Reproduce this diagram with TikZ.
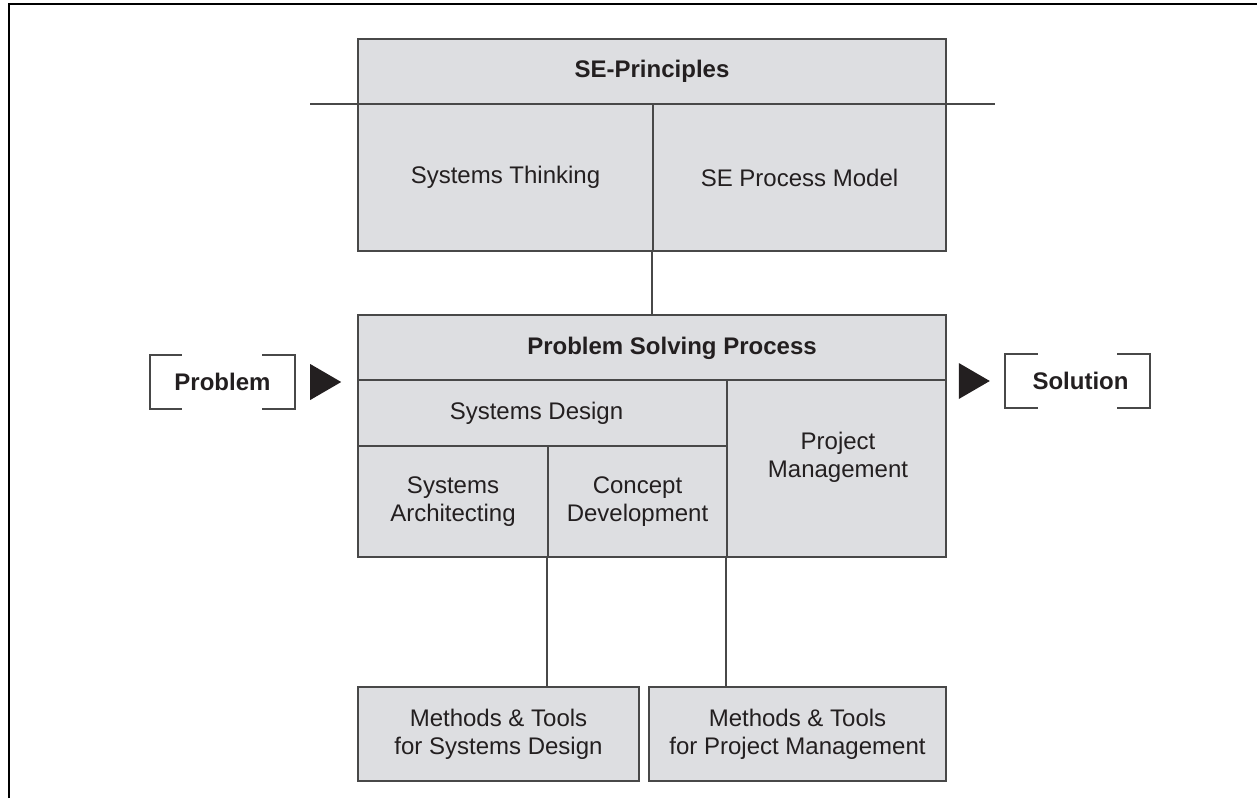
\documentclass[tikz,border=0pt]{standalone}
\usepackage{fontspec}
\setmainfont{Liberation Sans}
\definecolor{cellfill}{RGB}{221,222,225}
\definecolor{edge}{RGB}{72,72,72}
\definecolor{ink}{RGB}{35,31,32}
\begin{document}
\begin{tikzpicture}[x=1pt,y=-1pt,
  cell/.style={draw=edge, line width=1.6pt, fill=cellfill, inner sep=0pt, text=ink,
               font=\fontsize{24}{28}\selectfont, align=center},
  hdr/.style={cell, font=\fontsize{24}{28}\selectfont\bfseries},
  txt/.style={text=ink, inner sep=0pt, font=\fontsize{24}{28}\selectfont, align=center},
  btxt/.style={txt, font=\fontsize{24}{28}\selectfont\bfseries},
  conn/.style={draw=edge, line width=1.5pt},
  brk/.style={draw=edge, line width=1.5pt},
  tri/.style={fill=ink}]
\useasboundingbox (0,0) rectangle (1257,798);
% frame
\draw[line width=2.5pt, black] (9,798) -- (9,4) -- (1257,4);

% SE principles block
\node[hdr, minimum width=588pt, minimum height=65pt] (seh) at (652,71.5) {SE-Principles};
\node[cell, minimum width=295pt, minimum height=147pt] (st) at (505.5,177.5) {Systems Thinking};
\node[cell, minimum width=293pt, minimum height=147pt] (spm) at (799.5,177.5) {SE Process Model};
\coordinate (hl1) at (310,104);
\coordinate (hl2) at (995,104);
\draw[conn] (hl1) -- (hl2);

% problem solving process block
\node[hdr, minimum width=588pt, minimum height=65pt] (psp) at (652,347.5) {};
\node[btxt] (psptext) at (672,348) {Problem Solving Process};
\node[cell, minimum width=369pt, minimum height=66pt] (sd) at (542.5,413) {Systems Design\hspace*{12pt}};
\node[cell, minimum width=190pt, minimum height=111pt] (sa) at (453,501.5) {Systems\\Architecting};
\node[cell, minimum width=179pt, minimum height=111pt] (cd) at (637.5,501.5) {Concept\\Development};
\node[cell, minimum width=219pt, minimum height=177pt] (pm) at (836.5,468.5) {};
\node[txt] (pmtext) at (838,457) {Project\\Management};

% methods & tools
\node[cell, minimum width=281pt, minimum height=94pt] (mtsd) at (498.5,734) {Methods \& Tools\\for Systems Design};
\node[cell, minimum width=297pt, minimum height=94pt] (mtpm) at (797.5,734) {Methods \& Tools\\for Project Management};

% connectors
\draw[conn] (spm.south west) -- (spm.south west |- psp.north);
\draw[conn] (cd.south west) -- (cd.south west |- mtsd.north);
\draw[conn] (pm.south west) -- (pm.south west |- mtpm.north);

% problem
\node[btxt, minimum width=145pt, minimum height=54pt] (prob) at (222.5,382) {Problem};
\draw[brk] ([xshift=32pt]prob.north west) -- (prob.north west) -- (prob.south west) -- ([xshift=32pt]prob.south west);
\draw[brk] ([xshift=-33pt]prob.north east) -- (prob.north east) -- (prob.south east) -- ([xshift=-33pt]prob.south east);
\fill[tri] ([xshift=15pt,yshift=18pt]prob.east) -- ([xshift=15pt,yshift=-18pt]prob.east) -- ([xshift=46pt]prob.east) -- cycle;

% solution
\node[btxt, minimum width=145pt, minimum height=54pt] (sol) at (1077.5,381) {\hspace*{6pt}Solution};
\draw[brk] ([xshift=33pt]sol.north west) -- (sol.north west) -- (sol.south west) -- ([xshift=33pt]sol.south west);
\draw[brk] ([xshift=-33pt]sol.north east) -- (sol.north east) -- (sol.south east) -- ([xshift=-33pt]sol.south east);
\fill[tri] ([xshift=-46pt,yshift=18pt]sol.west) -- ([xshift=-46pt,yshift=-18pt]sol.west) -- ([xshift=-15pt]sol.west) -- cycle;
\end{tikzpicture}
\end{document}
